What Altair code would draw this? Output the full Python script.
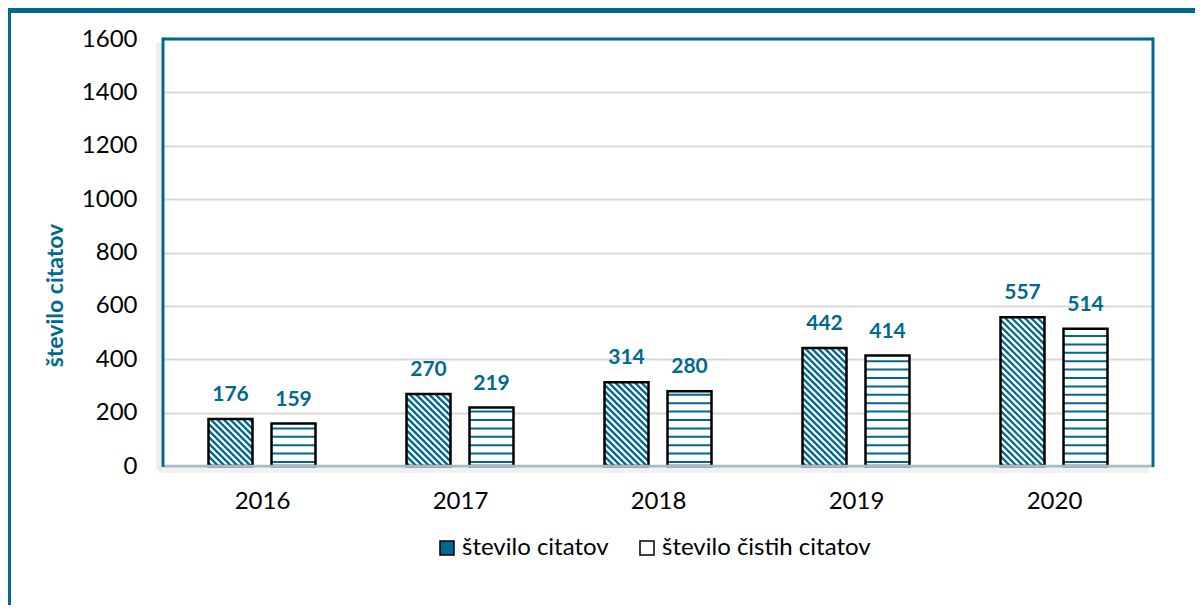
import altair as alt
import pandas as pd

# ---- data ----
years = [2016, 2017, 2018, 2019, 2020]
series_names = ["število citatov", "število čistih citatov"]
citati = [176, 270, 314, 442, 557]
cisti_citati = [159, 219, 280, 414, 514]
y_ticks = [0, 200, 400, 600, 800, 1000, 1200, 1400, 1600]

rows = []
for i, yr in enumerate(years):
    rows.append({"leto": yr, "serija": series_names[0], "s": 0, "vrednost": citati[i]})
    rows.append({"leto": yr, "serija": series_names[1], "s": 1, "vrednost": cisti_citati[i]})
df = pd.DataFrame(rows)

TEAL = "#00698F"
FONT = "Lato"
W, H = 990, 427
YMAX = 1600
PX_X = W / 5          # pixels per year
PX_Y = H / YMAX       # pixels per unit
BAR_PX = 44           # bar width between stroke centres (px)
OFF = 31.5 / PX_X     # offset of each bar from the year centre
HALF = (BAR_PX / 2) / PX_X
DIAG_STEP = 6.5       # px, horizontal period of diagonal hatching
HSTEP = 8.4 / PX_Y    # units, period of horizontal hatching

xscale = alt.Scale(domain=[2015.5, 2020.5], nice=False, zero=False)
yscale = alt.Scale(domain=[0, YMAX], nice=False)

base = alt.Chart(df).transform_calculate(
    xc=f"datum.leto + (datum.s == 0 ? -{OFF} : {OFF})"
).transform_calculate(
    xl=f"datum.xc - {HALF}",
    xr=f"datum.xc + {HALF}",
    zero="0",
)

shadow = base.mark_rect(fill="black", opacity=0.13, xOffset=3, yOffset=2, strokeWidth=0).encode(
    x=alt.X("xl:Q", scale=xscale), x2="xr:Q",
    y=alt.Y("vrednost:Q", scale=yscale), y2="zero:Q",
)

fills = base.mark_rect(strokeWidth=0).encode(
    x=alt.X(
        "xl:Q",
        scale=xscale,
        axis=alt.Axis(
            values=years, format="d", title=None, ticks=False, domain=False,
            grid=False, labelFont=FONT, labelFontSize=24, labelColor="black",
            labelPadding=23, labelFlush=False,
        ),
    ),
    x2="xr:Q",
    y=alt.Y(
        "vrednost:Q",
        scale=yscale,
        axis=alt.Axis(
            values=y_ticks, format="d", title="število citatov", ticks=False, domain=False,
            grid=True, gridColor="#D9D9D9", gridWidth=2,
            labelFont=FONT, labelFontSize=24, labelColor="black", labelPadding=26,
            titleFont=FONT, titleFontSize=23, titleFontWeight="bold", titleColor=TEAL,
            titleAngle=270, titleAlign="center", titleBaseline="alphabetic",
            titleX=-101, titleY=256,
        ),
    ),
    y2="zero:Q",
    fill=alt.Fill(
        "serija:N",
        scale=alt.Scale(domain=series_names, range=[TEAL, "white"]),
        legend=alt.Legend(
            orient="none", legendX=272, legendY=497, direction="horizontal",
            title=None, symbolType="square", symbolSize=196,
            symbolStrokeColor="black", symbolStrokeWidth=1.5,
            labelFont=FONT, labelFontSize=24, labelColor="black", labelLimit=400,
            columnPadding=26, labelOffset=3,
        ),
    ),
)

# diagonal hatching (white stripes) over the first series
diag = (
    base.transform_filter("datum.s == 0")
    .transform_calculate(hpx=f"datum.vrednost * {PX_Y}")
    .transform_calculate(c=f"sequence(0, datum.hpx + {BAR_PX}, {DIAG_STEP})")
    .transform_flatten(["c"])
    .transform_calculate(ua="max(0, datum.c - datum.hpx)", ub=f"min({BAR_PX}, datum.c)")
    .transform_filter("datum.ub > datum.ua")
    .transform_calculate(
        sx1=f"datum.xl + datum.ua / {PX_X}",
        sx2=f"datum.xl + datum.ub / {PX_X}",
        sy1=f"(datum.c - datum.ua) / {PX_Y}",
        sy2=f"(datum.c - datum.ub) / {PX_Y}",
    )
    .mark_rule(stroke="white", strokeWidth=2.3, strokeCap="butt")
    .encode(
        x=alt.X("sx1:Q", scale=xscale),
        x2="sx2:Q",
        y=alt.Y("sy1:Q", scale=yscale),
        y2="sy2:Q",
    )
)

# horizontal hatching (teal lines) over the second series
horiz = (
    base.transform_filter("datum.s == 1")
    .transform_calculate(ys=f"sequence(15, datum.vrednost, {HSTEP})")
    .transform_flatten(["ys"])
    .mark_rule(stroke=TEAL, strokeWidth=2, strokeCap="butt")
    .encode(
        x=alt.X("xl:Q", scale=xscale),
        x2="xr:Q",
        y=alt.Y("ys:Q", scale=yscale),
    )
)

outline = base.mark_rect(fill="transparent", stroke="black", strokeWidth=2.5).encode(
    x=alt.X("xl:Q", scale=xscale), x2="xr:Q",
    y=alt.Y("vrednost:Q", scale=yscale), y2="zero:Q",
)

labels = base.mark_text(
    font=FONT, fontSize=21, fontWeight="bold", color=TEAL,
    baseline="alphabetic", align="center", dy=-18,
).encode(
    x=alt.X("xc:Q", scale=xscale),
    y=alt.Y("vrednost:Q", scale=yscale),
    text="vrednost:Q",
)

deco = alt.Chart(pd.DataFrame({"k": [0]}))
frame_shadow_left = deco.mark_rule(stroke="black", strokeOpacity=0.06, strokeWidth=6).encode(
    x=alt.value(-4), y=alt.value(4), y2=alt.value(H + 4))
frame_shadow_bottom = deco.mark_rule(stroke="black", strokeOpacity=0.06, strokeWidth=6).encode(
    x=alt.value(-4), x2=alt.value(W - 4), y=alt.value(H + 4))
frame_top = deco.mark_rule(stroke=TEAL, strokeWidth=3).encode(
    x=alt.value(0), x2=alt.value(W), y=alt.value(0))
frame_left = deco.mark_rule(stroke=TEAL, strokeWidth=3).encode(
    x=alt.value(0), y=alt.value(-1.5), y2=alt.value(H + 1))
frame_right = deco.mark_rule(stroke=TEAL, strokeWidth=3).encode(
    x=alt.value(W), y=alt.value(-1.5), y2=alt.value(H + 1))
frame_bottom = deco.mark_rule(stroke="#A7BAC2", strokeWidth=2.5).encode(
    x=alt.value(1.5), x2=alt.value(W - 1.5), y=alt.value(H))
outer_top = deco.mark_rect(fill=TEAL).encode(
    x=alt.value(-160), x2=alt.value(W + 50), y=alt.value(-35), y2=alt.value(-26))
outer_left = deco.mark_rect(fill=TEAL).encode(
    x=alt.value(-160), x2=alt.value(-152), y=alt.value(-35), y2=alt.value(H + 150))

chart = alt.layer(
    frame_shadow_left, frame_shadow_bottom,
    shadow, fills, diag, horiz, outline, labels,
    frame_bottom, frame_top, frame_left, frame_right, outer_top, outer_left,
).properties(
    width=W, height=H,
    autosize=alt.AutoSizeParams(type="none"),
    padding={"left": 155, "top": 31, "right": 42, "bottom": 139},
).configure_view(stroke=None).configure(background="white")

chart.save("out.html", embed_options={"renderer": "svg", "actions": False})
